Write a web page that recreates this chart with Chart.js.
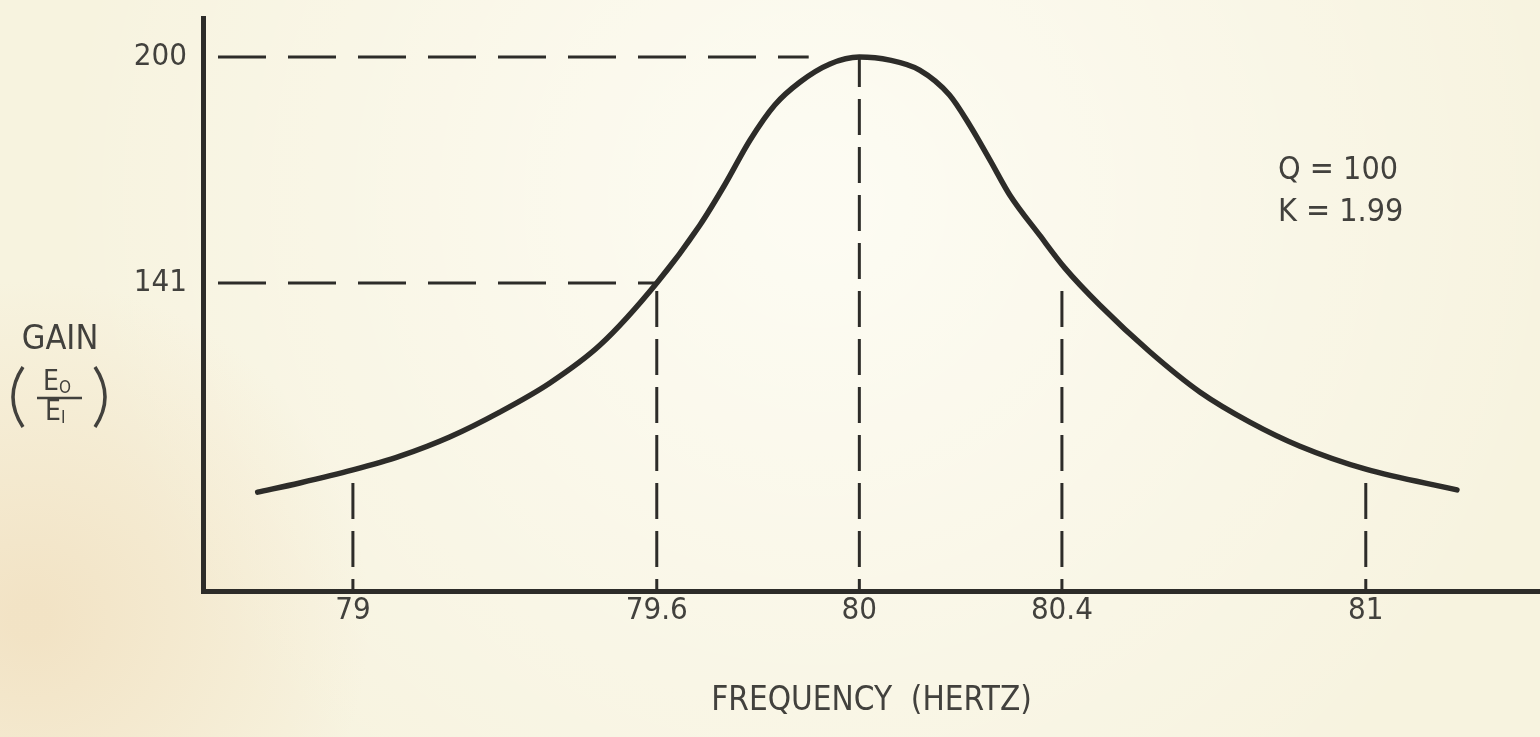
<!DOCTYPE html>
<html>
<head>
<meta charset="utf-8">
<title>Resonance curve</title>
<script src="https://cdn.jsdelivr.net/npm/chart.js@4.4.1/dist/chart.umd.min.js"></script>
<style>
  html, body { margin: 0; padding: 0; background: #f8f4e2; }
  #wrap { position: relative; width: 1540px; height: 737px; }
</style>
</head>
<body>
<div id="wrap"><canvas id="resonance"></canvas></div>
<script>
// response curve, read point by point
const freq = [78.812, 78.895, 79.0, 79.093, 79.191, 79.29, 79.389, 79.488, 79.6, 79.685,
              79.734, 79.784, 79.833, 79.883, 79.942, 80.0, 80.06, 80.119, 80.178, 80.218,
              80.258, 80.297, 80.356, 80.406, 80.475, 80.574, 80.673, 80.771, 80.87, 81.0, 81.18];
const gain = [86.4, 88.8, 92.2, 95.8, 100.8, 107.3, 114.9, 124.8, 141, 156.1,
              166.6, 178.3, 187.5, 193.5, 198.2, 200, 199.2, 196.6, 190.1, 182.2,
              173.1, 164.0, 153.5, 144.9, 135.2, 123.0, 112.5, 104.7, 98.4, 92.4, 87.0];

// marked frequencies with the height each dashed drop line reaches
const markFreqs = [79, 79.6, 80, 80.4, 81];
const markLabels = ['79', '79.6', '80', '80.4', '81'];
const markTops = [91, 141, 200, 140, 90];

// marked gain levels and where their dashed lines stop
const levels = [141, 200];
const levelLabels = ['141', '200'];
const levelEnds = [79.6, 79.9];

const freqRange = [78.704, 81.344];
const gainRange = [60.6, 210.2];

const notes = ['Q = 100', 'K = 1.99'];

const INK = '#2d2c29';
const TEXT = '#42413d';
const FONT = "'Liberation Sans Narrow', 'Arial Narrow', 'DejaVu Sans Condensed', 'Liberation Sans', sans-serif";

const datasets = [{
  data: freq.map((f, i) => ({ x: f, y: gain[i] })),
  borderColor: INK,
  borderWidth: 5.5,
  borderCapStyle: 'round',
  pointRadius: 0,
  cubicInterpolationMode: 'monotone'
}];

levels.forEach((g, i) => {
  datasets.push({
    data: [{ x: freqRange[0], y: g }, { x: levelEnds[i], y: g }],
    borderColor: INK,
    borderWidth: 3,
    borderDash: [48, 22],
    borderDashOffset: 55,
    pointRadius: 0
  });
});

markFreqs.forEach((f, i) => {
  datasets.push({
    data: [{ x: f, y: gainRange[0] }, { x: f, y: markTops[i] }],
    borderColor: INK,
    borderWidth: 3,
    borderDash: [36, 12],
    borderDashOffset: 24,
    pointRadius: 0
  });
});

// scanned paper tone behind everything
const paper = {
  id: 'paper',
  beforeDraw(chart) {
    const { ctx, width, height } = chart;
    ctx.save();
    ctx.fillStyle = '#f7f3df';
    ctx.fillRect(0, 0, width, height);
    let g = ctx.createRadialGradient(820, 200, 50, 820, 200, 760);
    g.addColorStop(0, 'rgba(255,255,250,0.7)');
    g.addColorStop(1, 'rgba(255,255,250,0)');
    ctx.fillStyle = g;
    ctx.fillRect(0, 0, width, height);
    g = ctx.createRadialGradient(30, 620, 20, 30, 620, 340);
    g.addColorStop(0, 'rgba(238,214,176,0.55)');
    g.addColorStop(1, 'rgba(238,214,176,0)');
    ctx.fillStyle = g;
    ctx.fillRect(0, 0, width, height);
    ctx.restore();
  }
};

// y axis caption (gain as a fraction) and circuit notes
const captions = {
  id: 'captions',
  afterDraw(chart) {
    const { ctx } = chart;
    ctx.save();
    ctx.fillStyle = TEXT;
    ctx.strokeStyle = TEXT;
    ctx.textBaseline = 'middle';

    ctx.textAlign = 'center';
    ctx.font = `34px ${FONT}`;
    ctx.fillText('GAIN', 60, 340);

    // fraction
    ctx.font = `28px ${FONT}`;
    ctx.textAlign = 'right';
    ctx.fillText('E', 59, 383);
    ctx.fillText('E', 61, 413);
    ctx.font = `17px ${FONT}`;
    ctx.textAlign = 'left';
    ctx.fillText('O', 59, 389);
    ctx.fillText('I', 61, 419);
    ctx.lineWidth = 2.5;
    ctx.beginPath();
    ctx.moveTo(37, 398);
    ctx.lineTo(82, 398);
    ctx.stroke();

    // tall parentheses
    ctx.lineWidth = 3.5;
    ctx.beginPath();
    ctx.moveTo(23, 367);
    ctx.quadraticCurveTo(3, 397, 23, 427);
    ctx.stroke();
    ctx.beginPath();
    ctx.moveTo(95, 367);
    ctx.quadraticCurveTo(115, 397, 95, 427);
    ctx.stroke();

    ctx.textAlign = 'left';
    ctx.font = `32px ${FONT}`;
    ctx.fillText(notes[0], 1278, 171);
    ctx.fillText(notes[1], 1278, 213);
    ctx.restore();
  }
};

new Chart(document.getElementById('resonance'), {
  type: 'line',
  data: { datasets },
  plugins: [paper, captions],
  options: {
    responsive: true,
    maintainAspectRatio: false,
    animation: false,
    layout: { padding: { top: 18, right: 0, bottom: 0, left: 0 } },
    plugins: { legend: { display: false }, tooltip: { enabled: false } },
    scales: {
      x: {
        type: 'linear',
        min: freqRange[0],
        max: freqRange[1],
        afterFit: (s) => { s.height = 146; s.paddingLeft = 0; s.paddingRight = 0; },
        afterBuildTicks: (s) => { s.ticks = markFreqs.map(v => ({ value: v })); },
        grid: { display: false, drawTicks: false },
        border: { display: true, color: INK, width: 5 },
        ticks: {
          autoSkip: false,
          maxRotation: 0,
          padding: 1,
          color: TEXT,
          font: { family: FONT, size: 31 },
          callback: (v) => markLabels[markFreqs.indexOf(v)]
        },
        title: {
          display: true,
          text: 'FREQUENCY  (HERTZ)',
          color: TEXT,
          font: { family: FONT, size: 33 },
          padding: { top: 0, bottom: 16 }
        }
      },
      y: {
        type: 'linear',
        min: gainRange[0],
        max: gainRange[1],
        afterFit: (s) => { s.width = 203; s.paddingTop = 0; s.paddingBottom = 0; },
        afterBuildTicks: (s) => { s.ticks = levels.map(v => ({ value: v })); },
        grid: { display: false, drawTicks: false },
        border: { display: true, color: INK, width: 5 },
        ticks: {
          padding: 16,
          color: TEXT,
          font: { family: FONT, size: 31 },
          callback: (v) => levelLabels[levels.indexOf(v)]
        }
      }
    }
  }
});
</script>
</body>
</html>
